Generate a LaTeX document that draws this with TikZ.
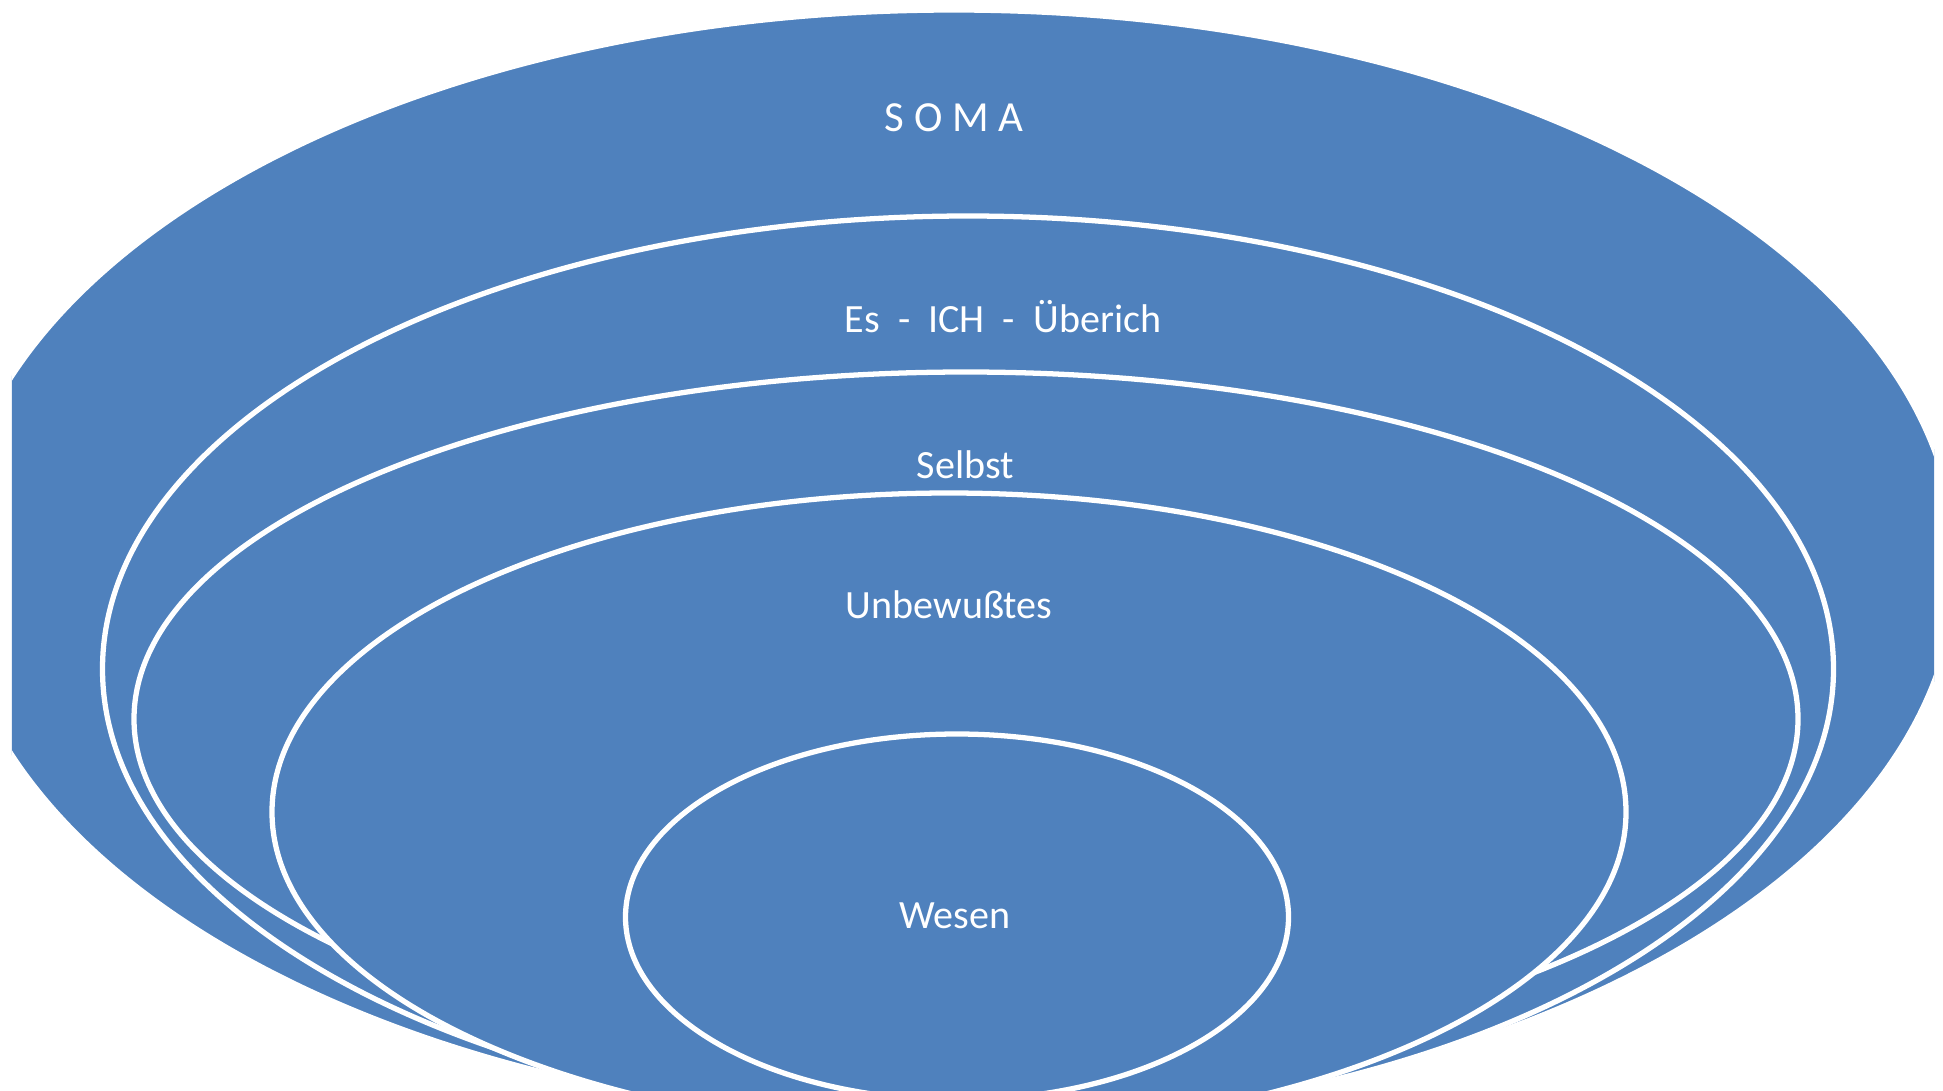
\documentclass[tikz,border=0pt]{standalone}
\usepackage{fontspec}
\setmainfont{Carlito}
\usepackage{tikz}
\definecolor{somablue}{HTML}{4F81BD}
\tikzset{
	layer/.style={fill=somablue, draw=white, line width=1.5pt},
	layerlabel/.style={text=white, anchor=base, inner sep=0pt, font=\fontsize{11.4}{13.5}\selectfont}
}

\begin{document}
\begin{tikzpicture}
		%%%%% START %%%%%
		
		\useasboundingbox (0, 0) rectangle (19.43, 10.90);
		\clip (0.12, 0) rectangle (19.34, 10.90);
		
		\draw[layer] (9.54, 5.245) ellipse (10.02 and 5.555);
		\draw[layer] (9.68, 4.21) ellipse (8.655 and 4.53);
		\draw[layer] (9.66, 3.71) ellipse (8.32 and 3.47);
		\draw[layer] (9.49, 2.78) ellipse (6.77 and 3.19);
		\draw[layer] (9.57, 1.73) ellipse (3.315 and 1.83);
		
		\node[layerlabel, font=\fontsize{12.2}{14}\selectfont] (soma) at (9.54, 9.59) {S O M A};
		\node[layerlabel] (esich) at (10.03, 7.58) {Es\ \ -\ \ ICH\ \ -\ \ Überich};
		\node[layerlabel] (selbst) at (9.655, 6.12) {Selbst};
		\node[layerlabel] (unbew) at (9.49, 4.72) {Unbewußtes};
		\node[layerlabel] (wesen) at (9.55, 1.62) {Wesen};
		
		%%%%% END %%%%%
	\end{tikzpicture}
\end{document}
